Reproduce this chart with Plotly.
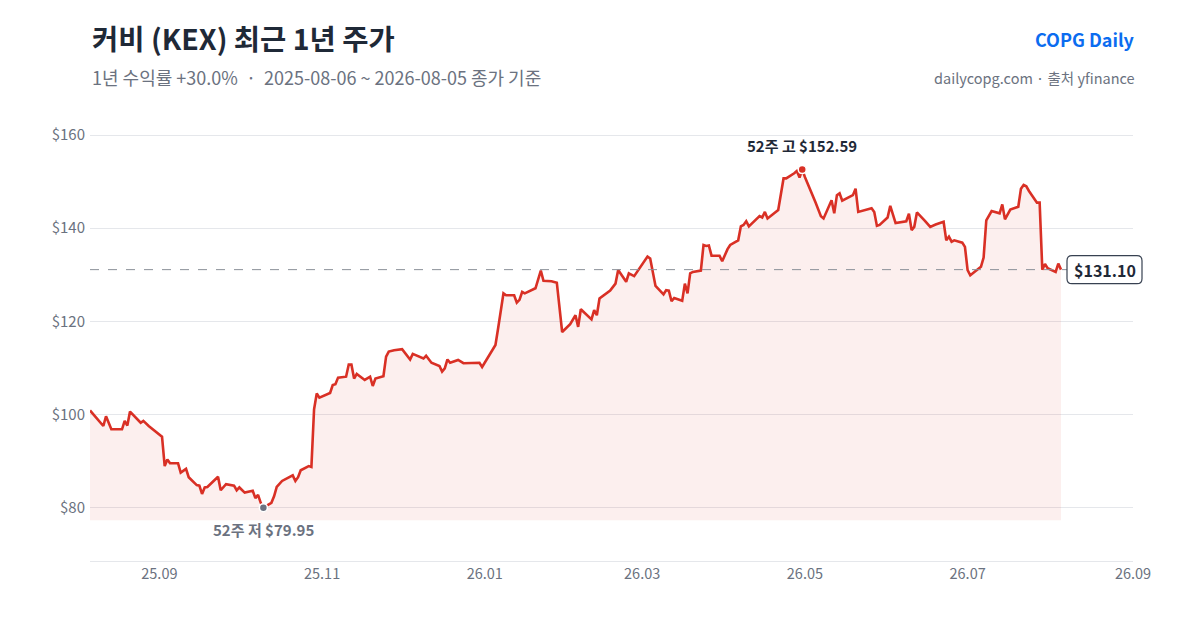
import plotly.graph_objects as go

# 종가 (읽어낸 꼭짓점)
dates = [
    "2025-08-06", "2025-08-11", "2025-08-12", "2025-08-14", "2025-08-18", "2025-08-19", "2025-08-20",
    "2025-08-21", "2025-08-25", "2025-08-26", "2025-08-28", "2025-09-02", "2025-09-03", "2025-09-04",
    "2025-09-05", "2025-09-08", "2025-09-09", "2025-09-11", "2025-09-12", "2025-09-15", "2025-09-16",
    "2025-09-17", "2025-09-18", "2025-09-19", "2025-09-23", "2025-09-24", "2025-09-26", "2025-09-29",
    "2025-09-30", "2025-10-01", "2025-10-03", "2025-10-06", "2025-10-07", "2025-10-08", "2025-10-09",
    "2025-10-10", "2025-10-13", "2025-10-14", "2025-10-15", "2025-10-17", "2025-10-21", "2025-10-22",
    "2025-10-23", "2025-10-24", "2025-10-27", "2025-10-28", "2025-10-29", "2025-10-30", "2025-10-31",
    "2025-11-04", "2025-11-05", "2025-11-06", "2025-11-07", "2025-11-10", "2025-11-11", "2025-11-12",
    "2025-11-13", "2025-11-14", "2025-11-17", "2025-11-19", "2025-11-20", "2025-11-21", "2025-11-24",
    "2025-11-25", "2025-11-26", "2025-11-28", "2025-12-01", "2025-12-02", "2025-12-04", "2025-12-05",
    "2025-12-09", "2025-12-10", "2025-12-12", "2025-12-15", "2025-12-16", "2025-12-17", "2025-12-18",
    "2025-12-19", "2025-12-22", "2025-12-24", "2025-12-30", "2025-12-31", "2026-01-02", "2026-01-05",
    "2026-01-06", "2026-01-08", "2026-01-09", "2026-01-12", "2026-01-13", "2026-01-14", "2026-01-15",
    "2026-01-16", "2026-01-20", "2026-01-22", "2026-01-23", "2026-01-26", "2026-01-28", "2026-01-30",
    "2026-02-02", "2026-02-04", "2026-02-05", "2026-02-06", "2026-02-10", "2026-02-11", "2026-02-12",
    "2026-02-13", "2026-02-17", "2026-02-19", "2026-02-20", "2026-02-23", "2026-02-24", "2026-02-26",
    "2026-03-03", "2026-03-04", "2026-03-06", "2026-03-09", "2026-03-10", "2026-03-11", "2026-03-12",
    "2026-03-13", "2026-03-16", "2026-03-17", "2026-03-18", "2026-03-19", "2026-03-20", "2026-03-23",
    "2026-03-24", "2026-03-25", "2026-03-26", "2026-03-27", "2026-03-30", "2026-03-31", "2026-04-02",
    "2026-04-03", "2026-04-06", "2026-04-07", "2026-04-08", "2026-04-09", "2026-04-10", "2026-04-13",
    "2026-04-14", "2026-04-15", "2026-04-16", "2026-04-17", "2026-04-20", "2026-04-21", "2026-04-23",
    "2026-04-24", "2026-04-27", "2026-04-28", "2026-04-29", "2026-04-30", "2026-05-01", "2026-05-04",
    "2026-05-05", "2026-05-07", "2026-05-08", "2026-05-11", "2026-05-12", "2026-05-13", "2026-05-14",
    "2026-05-15", "2026-05-18", "2026-05-19", "2026-05-20", "2026-05-21", "2026-05-26", "2026-05-27",
    "2026-05-28", "2026-05-29", "2026-06-01", "2026-06-02", "2026-06-04", "2026-06-08", "2026-06-09",
    "2026-06-10", "2026-06-11", "2026-06-12", "2026-06-15", "2026-06-17", "2026-06-19", "2026-06-22",
    "2026-06-23", "2026-06-24", "2026-06-25", "2026-06-26", "2026-06-29", "2026-06-30", "2026-07-01",
    "2026-07-02", "2026-07-06", "2026-07-07", "2026-07-08", "2026-07-10", "2026-07-13", "2026-07-14",
    "2026-07-15", "2026-07-17", "2026-07-20", "2026-07-21", "2026-07-22", "2026-07-23", "2026-07-24",
    "2026-07-27", "2026-07-28", "2026-07-29", "2026-07-30", "2026-07-31", "2026-08-03", "2026-08-04",
    "2026-08-05",
]
closes = [
    100.85, 97.5, 99.6, 96.8, 96.8, 98.6, 97.6,
    100.6, 98.2, 98.6, 97.5, 95.2, 88.9, 90.3,
    89.5, 89.5, 87.5, 88.3, 86.5, 84.8, 84.7,
    82.9, 84.3, 84.4, 86.6, 83.7, 85.0, 84.7,
    83.7, 84.3, 83.2, 83.6, 82.0, 82.7, 81.0,
    79.95, 81.0, 82.4, 84.4, 85.7, 86.9, 85.7,
    86.5, 88.0, 88.9, 88.7, 101.1, 104.5, 103.6,
    104.6, 106.3, 106.5, 107.9, 108.1, 110.7, 110.7,
    107.7, 108.7, 107.4, 108.1, 106.1, 107.7, 108.2,
    112.4, 113.5, 113.8, 114.0, 113.2, 111.8, 113.0,
    112.0, 112.6, 111.1, 110.4, 109.2, 109.9, 111.8,
    111.1, 111.7, 111.0, 111.1, 110.2, 112.0, 114.9,
    118.5, 126.0, 125.6, 125.6, 124.0, 124.6, 126.3,
    126.0, 127.1, 130.9, 128.7, 128.6, 128.3, 117.7,
    119.4, 121.3, 118.8, 122.6, 120.4, 122.4, 121.3,
    124.9, 126.6, 128.1, 131.0, 128.5, 130.3, 129.7,
    133.9, 133.5, 127.6, 125.8, 126.7, 126.6, 124.3,
    125.0, 124.4, 128.1, 126.0, 130.3, 130.6, 130.9,
    136.4, 136.2, 136.3, 134.1, 134.1, 132.9, 135.5,
    136.4, 137.4, 140.4, 140.7, 141.5, 140.4, 142.0,
    142.6, 142.3, 143.5, 142.1, 143.5, 143.9, 150.7,
    150.7, 151.8, 152.3, 150.9, 152.59, 151.0, 147.1,
    145.5, 142.6, 142.1, 146.0, 143.2, 147.1, 147.5,
    145.9, 146.7, 147.1, 148.5, 143.5, 144.3, 143.5,
    140.5, 140.7, 142.3, 144.8, 141.1, 141.5, 143.1,
    139.6, 140.3, 143.4, 141.6, 140.3, 140.8, 141.4,
    137.4, 138.2, 137.1, 137.4, 136.9, 136.0, 131.0,
    129.9, 131.7, 133.7, 141.7, 143.7, 143.2, 145.1,
    141.9, 144.0, 144.6, 148.5, 149.3, 149.0, 148.0,
    145.5, 145.5, 131.1, 132.3, 131.4, 130.6, 132.4,
    131.10,
]

y_ticks = [80, 100, 120, 140, 160]
y_labels = ["$80", "$100", "$120", "$140", "$160"]
x_ticks = ["2025-09-01", "2025-11-01", "2026-01-01", "2026-03-01", "2026-05-01", "2026-07-01", "2026-09-01"]
x_labels = ["25.09", "25.11", "26.01", "26.03", "26.05", "26.07", "26.09"]

FONT = "Noto Sans CJK KR"
RED = "#d93025"
DARK = "#1f2937"
GRAY = "#6b7280"

hi = max(closes)
lo = min(closes)
i_hi = closes.index(hi)
i_lo = closes.index(lo)
last = closes[-1]
base = lo - (hi - lo) * 0.037

fig = go.Figure()
fig.add_trace(go.Scatter(x=dates, y=[base] * len(dates), mode="lines",
                         line=dict(width=0), hoverinfo="skip", showlegend=False))
fig.add_trace(go.Scatter(x=dates, y=closes, mode="lines", fill="tonexty",
                         fillcolor="rgba(217,48,37,0.08)",
                         line=dict(color=RED, width=2.6), showlegend=False))

fig.add_hline(y=last, line=dict(color="#8b9099", width=1, dash="dash"))

# 52주 고/저
fig.add_trace(go.Scatter(x=[dates[i_hi]], y=[hi], mode="markers",
                         marker=dict(color=RED, size=8, line=dict(color="white", width=1.5)),
                         showlegend=False))
fig.add_trace(go.Scatter(x=[dates[i_lo]], y=[lo], mode="markers",
                         marker=dict(color=GRAY, size=8, line=dict(color="white", width=1.5)),
                         showlegend=False))

fig.add_annotation(x=dates[i_hi], y=hi, text=f"<b>52주 고 ${hi:.2f}</b>", showarrow=False,
                   yshift=24, font=dict(size=15, color=DARK, family=FONT))
fig.add_annotation(x=dates[i_lo], y=lo, text=f"<b>52주 저 ${lo:.2f}</b>", showarrow=False,
                   yshift=-22, font=dict(size=15, color=GRAY, family=FONT))

# 마지막 종가 배지 (둥근 테두리, 플롯 오른쪽 끝 기준)
fig.add_shape(type="path", xref="paper", yref="y", xsizemode="pixel", ysizemode="pixel",
              xanchor=1, yanchor=last,
              path="M -61,-14 L 4,-14 Q 9,-14 9,-9 L 9,9 Q 9,14 4,14 L -61,14 "
                   "Q -66,14 -66,9 L -66,-9 Q -66,-14 -61,-14 Z",
              fillcolor="white", line=dict(color="#374151", width=1.2), layer="above")
fig.add_annotation(x=dates[-1], y=last, text=f"<b>${last:.2f}</b>", showarrow=False,
                   xanchor="center", xshift=44, font=dict(size=16, color=DARK, family=FONT))

# 헤더
ret = (last / closes[0] - 1) * 100
fig.add_annotation(xref="paper", yref="paper", x=0, y=1.16, xanchor="left", yanchor="middle",
                   text="<b>커비 (KEX) 최근 1년 주가</b>", showarrow=False,
                   font=dict(size=28.5, color=DARK, family=FONT))
fig.add_annotation(xref="paper", yref="paper", x=0, y=1.073, xanchor="left", yanchor="middle",
                   text=f"1년 수익률 +{ret:.1f}%\u00a0\u00a0·\u00a0\u00a0{dates[0]} ~ {dates[-1]} 종가 기준",
                   showarrow=False, font=dict(size=18, color=GRAY, family=FONT))
fig.add_annotation(xref="paper", yref="paper", x=1, y=1.157, xanchor="right", yanchor="middle",
                   xshift=4, text="<b>COPG Daily</b>", showarrow=False,
                   font=dict(size=18, color="#0b6cf0", family=FONT))
fig.add_annotation(xref="paper", yref="paper", x=1, y=1.073, xanchor="right", yanchor="middle",
                   xshift=4, text="dailycopg.com · 출처 yfinance", showarrow=False,
                   font=dict(size=14.5, color=GRAY, family=FONT))

fig.update_layout(
    width=1184, height=614,
    margin=dict(l=82, r=59, t=102, b=61),
    paper_bgcolor="white", plot_bgcolor="white",
    font=dict(family=FONT, color=GRAY, size=14),
    xaxis=dict(range=["2025-08-06", "2026-09-01"], tickvals=x_ticks, ticktext=x_labels,
               showgrid=False, showline=True, linecolor="#e5e7eb", linewidth=1,
               ticks="", zeroline=False, tickfont=dict(size=14.5, color=GRAY)),
    yaxis=dict(range=[68.5, 165.4], tickvals=y_ticks, ticktext=y_labels,
               showgrid=True, gridcolor="#e5e7eb", gridwidth=1, zeroline=False,
               ticks="", ticklabelstandoff=4, tickfont=dict(size=15, color=GRAY)),
    hovermode="x",
)

fig.write_html("out.html")
